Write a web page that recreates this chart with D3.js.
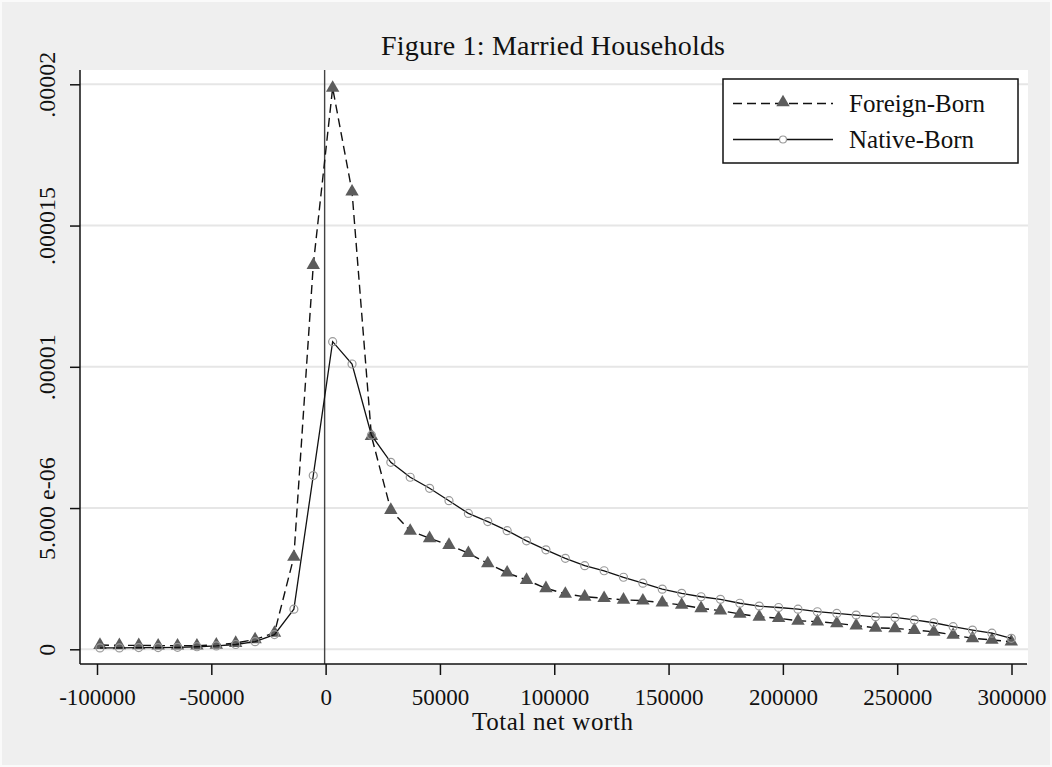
<!DOCTYPE html>
<html>
<head>
<meta charset="utf-8">
<script src="https://cdn.jsdelivr.net/npm/d3@7/dist/d3.min.js"></script>
<style>
  html, body { margin: 0; padding: 0; background: #ffffff; }
  svg { display: block; }
  text { font-family: "Liberation Serif", "DejaVu Serif", serif; fill: #111; }
</style>
</head>
<body>
<svg id="chart" width="1052" height="767"></svg>
<script>
// ---- Data (density values in units of 1e-6) ----
const netWorth = [-98700, -90219, -81738, -73257, -64776, -56295, -47814, -39333, -30852, -22371,
  -13890, -5409, 3072, 11553, 20034, 28515, 36996, 45477, 53958, 62439,
  70920, 79401, 87882, 96363, 104844, 113325, 121806, 130287, 138768, 147249,
  155730, 164211, 172692, 181173, 189654, 198135, 206616, 215097, 223578, 232059,
  240540, 249021, 257502, 265983, 274464, 282945, 291426, 299907];

const foreignBorn = [0.15, 0.14, 0.14, 0.13, 0.13, 0.13, 0.16, 0.22, 0.35, 0.58,
  3.27, 13.6, 19.87, 16.2, 7.55, 4.93, 4.19, 3.93, 3.69, 3.40,
  3.04, 2.71, 2.45, 2.16, 1.96, 1.86, 1.81, 1.75, 1.72, 1.65,
  1.57, 1.45, 1.37, 1.25, 1.15, 1.10, 1.01, 0.98, 0.92, 0.84,
  0.76, 0.74, 0.68, 0.62, 0.51, 0.39, 0.33, 0.27];

const nativeBorn = [0.05, 0.05, 0.06, 0.06, 0.07, 0.09, 0.12, 0.17, 0.27, 0.52,
  1.42, 6.15, 10.89, 10.1, 7.58, 6.62, 6.09, 5.70, 5.26, 4.81,
  4.52, 4.20, 3.84, 3.52, 3.22, 2.96, 2.78, 2.55, 2.34, 2.13,
  1.98, 1.86, 1.77, 1.63, 1.53, 1.48, 1.42, 1.33, 1.27, 1.21,
  1.15, 1.13, 1.04, 0.94, 0.80, 0.68, 0.57, 0.39];

const xTicks = [-100000, -50000, 0, 50000, 100000, 150000, 200000, 250000, 300000];
const xTickLabels = ["-100000", "-50000", "0", "50000", "100000", "150000", "200000", "250000", "300000"];
const yTicks = [0, 5, 10, 15, 20];
const yTickLabels = ["0", "5.000 e-06", ".00001", ".000015", ".00002"];

const seriesNames = ["Foreign-Born", "Native-Born"];
const titleText = "Figure 1: Married Households";
const xTitle = "Total net worth";

// ---- Layout ----
const W = 1052, H = 767;
const plot = { left: 80, right: 1028, top: 70, bottom: 664 };

const svg = d3.select("#chart");

// background
svg.append("rect").attr("x", 0).attr("y", 0).attr("width", W).attr("height", H).attr("fill", "#fafafa");
svg.append("rect").attr("x", 2).attr("y", 2).attr("width", W - 4).attr("height", H - 4).attr("fill", "#efefef");
svg.append("rect")
  .attr("x", plot.left).attr("y", plot.top)
  .attr("width", plot.right - plot.left).attr("height", plot.bottom - plot.top)
  .attr("fill", "#ffffff");

const x = d3.scaleLinear().domain([-100000, 300000]).range([97, 1011.5]);
const y = d3.scaleLinear().domain([0, 20]).range([649.3, 84.3]);

// gridlines
svg.append("g").selectAll("line").data(yTicks).join("line")
  .attr("x1", plot.left).attr("x2", plot.right)
  .attr("y1", d => y(d)).attr("y2", d => y(d))
  .attr("stroke", "#e6e6e6").attr("stroke-width", 2);

// vertical reference line at 0
svg.append("line")
  .attr("x1", x(0) - 1).attr("x2", x(0) - 1)
  .attr("y1", plot.top).attr("y2", plot.bottom)
  .attr("stroke", "#444").attr("stroke-width", 1.4);

// axes
const xAxis = d3.axisBottom(x).tickValues(xTicks).tickSize(11)
  .tickFormat((d, i) => xTickLabels[i]);
const gx = svg.append("g").attr("transform", `translate(0,${plot.bottom})`).call(xAxis);
gx.select(".domain").remove();
gx.selectAll(".tick line").attr("stroke", "#111").attr("stroke-width", 1.5);
gx.selectAll(".tick text")
  .attr("y", 41).attr("dy", 0)
  .attr("font-size", 23)
  .attr("font-family", "Liberation Serif, DejaVu Serif, serif")
  .attr("fill", "#111");

const yAxis = d3.axisLeft(y).tickValues(yTicks).tickSize(10)
  .tickFormat((d, i) => yTickLabels[i]);
const gy = svg.append("g").attr("transform", `translate(${plot.left},0)`).call(yAxis);
gy.select(".domain").remove();
gy.selectAll(".tick line").attr("stroke", "#111").attr("stroke-width", 1.5);
gy.selectAll(".tick text")
  .attr("x", null).attr("dy", null)
  .attr("transform", "translate(-25,0) rotate(-90)")
  .attr("text-anchor", "middle")
  .attr("font-size", 24)
  .attr("font-family", "Liberation Serif, DejaVu Serif, serif")
  .attr("fill", "#111");

// axis lines
svg.append("line").attr("x1", plot.left).attr("x2", plot.right - 1)
  .attr("y1", plot.bottom).attr("y2", plot.bottom)
  .attr("stroke", "#111").attr("stroke-width", 1.5);
svg.append("line").attr("x1", plot.left).attr("x2", plot.left)
  .attr("y1", plot.top).attr("y2", plot.bottom)
  .attr("stroke", "#111").attr("stroke-width", 1.5);

// series
const line = d3.line().x(d => x(d[0])).y(d => y(d[1]));
const fData = netWorth.map((v, i) => [v, foreignBorn[i]]);
const nData = netWorth.map((v, i) => [v, nativeBorn[i]]);

const triSym = d3.symbol().type(d3.symbolTriangle).size(78);
const triColor = "#5c5c5c";
const circColor = "#9a9a9a";

svg.append("path").datum(fData).attr("d", line)
  .attr("fill", "none").attr("stroke", "#111").attr("stroke-width", 1.4)
  .attr("stroke-dasharray", "9,5");
svg.append("g").selectAll("path").data(fData).join("path")
  .attr("d", triSym)
  .attr("transform", d => `translate(${x(d[0])},${y(d[1])})`)
  .attr("fill", triColor);

svg.append("path").datum(nData).attr("d", line)
  .attr("fill", "none").attr("stroke", "#111").attr("stroke-width", 1.3);
svg.append("g").selectAll("circle").data(nData).join("circle")
  .attr("cx", d => x(d[0])).attr("cy", d => y(d[1])).attr("r", 4)
  .attr("fill", "none").attr("stroke", circColor).attr("stroke-width", 1.2);

// title
svg.append("text").attr("x", 553).attr("y", 55)
  .attr("text-anchor", "middle").attr("font-size", 28)
  .attr("textLength", 344).attr("lengthAdjust", "spacing")
  .text(titleText);

// x axis title
svg.append("text").attr("x", 552.5).attr("y", 730)
  .attr("text-anchor", "middle").attr("font-size", 25)
  .attr("textLength", 161).attr("lengthAdjust", "spacing")
  .text(xTitle);

// legend
const lg = svg.append("g");
lg.append("rect").attr("x", 723).attr("y", 79).attr("width", 295).attr("height", 84)
  .attr("fill", "#ffffff").attr("stroke", "#111").attr("stroke-width", 1.5);
const legendRows = [
  { name: seriesNames[0], yy: 103.5, dash: "9,5", marker: "tri" },
  { name: seriesNames[1], yy: 139.5, dash: null, marker: "circ" }
];
legendRows.forEach(r => {
  lg.append("line").attr("x1", 733).attr("x2", 833).attr("y1", r.yy).attr("y2", r.yy)
    .attr("stroke", "#111").attr("stroke-width", 1.4)
    .attr("stroke-dasharray", r.dash);
  if (r.marker === "tri") {
    lg.append("path").attr("d", triSym).attr("transform", `translate(783,${r.yy - 1})`).attr("fill", triColor);
  } else {
    lg.append("circle").attr("cx", 783).attr("cy", r.yy).attr("r", 3.5)
      .attr("fill", "#ffffff").attr("stroke", circColor).attr("stroke-width", 1.2);
  }
  lg.append("text").attr("x", 849).attr("y", r.yy + 8.5).attr("font-size", 25).text(r.name);
});
</script>
</body>
</html>
